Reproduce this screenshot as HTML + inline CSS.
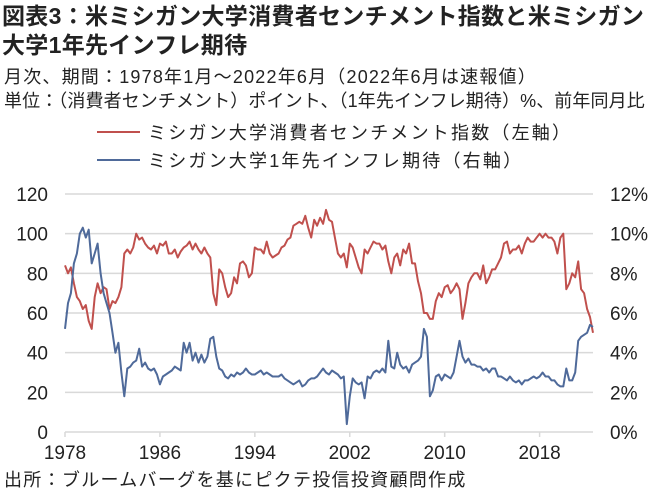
<!DOCTYPE html>
<html><head><meta charset="utf-8">
<style>
body{margin:0;background:#fff;}
.wrap{position:relative;width:655px;height:493px;overflow:hidden;font-family:"Liberation Sans","Noto Sans CJK JP",sans-serif;color:#222;}
.t{position:absolute;white-space:nowrap;}
</style></head>
<body>
<div class="wrap">
<div class="t" style="left:2px;top:2px;font-size:23px;font-weight:bold;line-height:29px;letter-spacing:0.3px;">図表3：米ミシガン大学消費者センチメント指数と米ミシガン<br>大学1年先インフレ期待</div>
<div class="t" style="left:4px;top:63px;font-size:18px;letter-spacing:1.2px;">月次、期間：1978年1月～2022年6月（2022年6月は速報値）</div>
<div class="t" style="left:4px;top:87px;font-size:18px;letter-spacing:0.1px;">単位：（消費者センチメント）ポイント、（1年先インフレ期待）%、前年同月比</div>
<svg id="chart" width="655" height="493" style="position:absolute;left:0;top:0"></svg>
<div class="t" style="left:4px;top:466px;font-size:18px;letter-spacing:1.3px;">出所：ブルームバーグを基にピクテ投信投資顧問作成</div>
</div>
<script>
const sentiment=[84,80,83,75,68,66,62,64,56,52,68,75,70,73,72,62,66,65,68,73,90,92,90,93,100,97,98,95,93,92,94,90,95,94,96,90,90,92,88,91,93,94,96,92,95,92,90,93,90,88,70,64,82,80,73,68,70,78,75,85,86,84,78,80,93,92,92,90,96,90,88,89,90,93,94,97,98,104,105,106,105,109,103,98,107,104,108,105,112,107,106,98,90,88,90,83,95,93,88,83,80,92,90,93,96,95,95,92,94,86,80,88,90,84,92,90,95,85,85,76,70,60,60,57,57,66,70,68,73,74,70,72,75,72,57,65,75,78,80,80,77,84,75,78,82,82,85,88,95,96,90,92,92,94,90,95,98,96,96,98,100,98,100,98,98,96,90,98,100,72,75,80,78,86,72,70,62,58,50];
const inflation=[5.2,6.5,7,8.5,9,10,10.3,9.8,10.2,8.5,9,9.5,8,7,6.5,6,5,4,4.5,3,1.8,3.2,3.3,3.5,3.6,4.2,3.3,3.5,3.2,3.1,3.2,2.9,2.4,2.8,2.9,3,3.1,3.3,3.2,3.1,4.5,4,4.5,3.6,4,3.5,3.9,3.5,3.8,4.7,4.8,3.8,3.2,3.1,2.8,2.7,2.9,2.8,3.0,2.9,3.0,3.2,3.0,2.9,2.9,3.0,3.1,2.9,3.0,2.9,2.8,2.8,2.8,2.9,2.7,2.6,2.5,2.4,2.5,2.6,2.3,2.4,2.6,2.7,2.7,2.8,3.0,3.2,3.0,2.9,3.1,3.0,2.9,2.7,2.8,0.4,1.8,2.7,2.5,2.4,2.5,1.7,2.8,2.7,3.0,3.1,3.0,3.2,3.0,4.6,3.3,3.2,4.0,3.4,3.2,3.3,3.0,3.4,3.5,3.6,3.8,5.2,4.8,1.8,2.1,2.8,2.9,2.6,2.9,2.8,2.7,3.0,3.8,4.6,3.8,3.5,3.7,3.4,3.4,3.3,3.3,3.1,3.2,3.0,3.2,3.2,2.8,2.8,2.7,2.6,2.8,2.6,2.5,2.6,2.4,2.6,2.6,2.7,2.8,2.7,2.8,3.0,2.8,2.8,2.6,2.6,2.4,2.3,2.3,3.2,2.6,2.6,3.0,4.6,4.8,4.9,5.0,5.4,5.3];
const leftTicks=[0,20,40,60,80,100,120];
const rightTicks=["0%","2%","4%","6%","8%","10%","12%"];
const yearTicks=[1978,1986,1994,2002,2010,2018];

const svg=document.getElementById('chart');
const NS='http://www.w3.org/2000/svg';
const x0=65,x1=593,yTop=194,yBot=432;
const X=t=>x0+(t-1978)*(x1-x0)/44.5;
const YL=v=>yBot-(v/120)*(yBot-yTop);
const YR=v=>yBot-(v/12)*(yBot-yTop);
function mk(tag,attrs){const e=document.createElementNS(NS,tag);for(const k in attrs)e.setAttribute(k,attrs[k]);svg.appendChild(e);return e;}

leftTicks.forEach((v,i)=>{
  const y=YL(v);
  if(v>0){const g=mk('line',{x1:x0,x2:x1,y1:y,y2:y,stroke:'#d9d9d9','stroke-width':1.5});
  
  }
  const t=mk('text',{x:48,y:y+7,'text-anchor':'end','font-size':19,fill:'#222','font-family':'Liberation Sans, sans-serif'});
  t.textContent=v;
  
  
  const r=mk('text',{x:610,y:y+7,'font-size':19,fill:'#222','font-family':'Liberation Sans, sans-serif'});
  r.textContent=rightTicks[i];
  
  
});
const ax=mk('line',{x1:x0,x2:x1,y1:yBot,y2:yBot,stroke:'#d9d9d9','stroke-width':1.5});


yearTicks.forEach(yr=>{
  const x=X(yr);
  const tk=mk('line',{x1:x,x2:x,y1:yBot,y2:yBot+5,stroke:'#d9d9d9','stroke-width':1.5});
  
  
  const t=mk('text',{x:x,y:yBot+27,'text-anchor':'middle','font-size':19,fill:'#222','font-family':'Liberation Sans, sans-serif'});
  t.textContent=yr;
  
  
});
function series(arr,Y,color,name){
  const pts=arr.map((v,i)=>X(1978+i/4).toFixed(1)+','+Y(v).toFixed(1)).join(' ');
  const p=mk('polyline',{points:pts,fill:'none',stroke:color,'stroke-width':2,'stroke-linejoin':'round'});
  
  
}
series(sentiment,YL,'#c0504d','sentiment-line');
series(inflation,YR,'#4f6a9a','inflation-expectation-line');

[[132,'#c0504d','ミシガン大学消費者センチメント指数（左軸）','legend-entry-sentiment'],[160,'#4f6a9a','ミシガン大学1年先インフレ期待（右軸）','legend-entry-inflation']].forEach(([y,c,label,n])=>{
  const l=mk('line',{x1:97,x2:140,y1:y,y2:y,stroke:c,'stroke-width':2});
  
  
  const t=mk('text',{x:148,y:y+7,'font-size':18,'letter-spacing':'2.2',fill:'#222','font-family':'Liberation Sans, Noto Sans CJK JP, sans-serif'});
  t.textContent=label;
  
  
});
</script>
</body></html>
